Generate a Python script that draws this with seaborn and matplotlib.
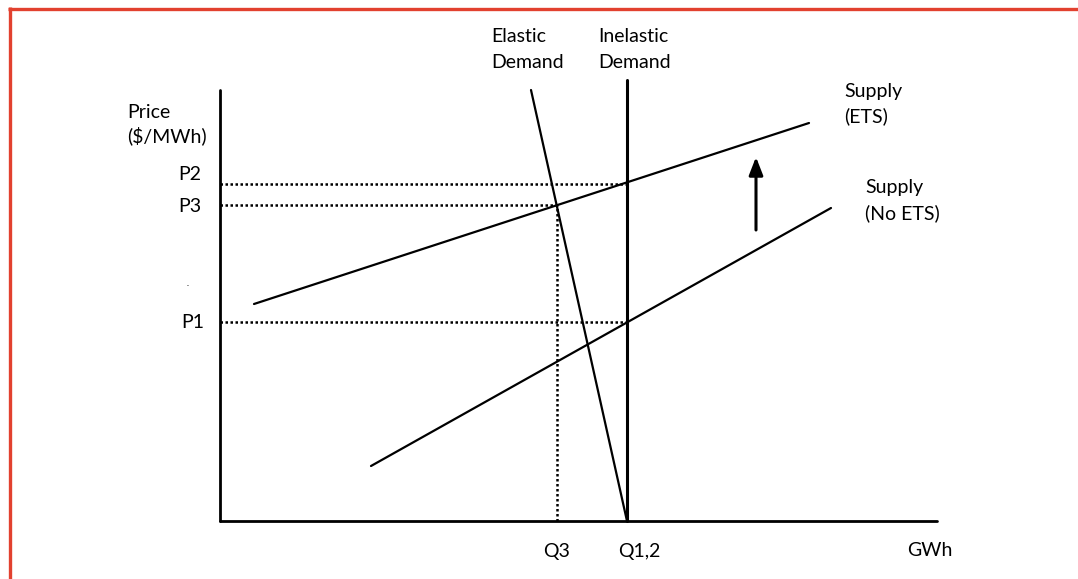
import matplotlib
matplotlib.use("Agg")
import matplotlib.pyplot as plt
import seaborn as sns
import pandas as pd
from matplotlib.lines import Line2D

# ---- data (quantity / price units measured from the axes origin) ----
supply_ets_q = [34, 589]
supply_ets_p = [217, 398]
supply_noets_q = [151, 611]
supply_noets_p = [55, 313]
elastic_q = [311, 407]
elastic_p = [431, 0]
inelastic_q = [407, 407]
inelastic_p = [0, 441]
price_levels = {"P2": 337, "P3": 316, "P1": 199}
price_ends = {"P2": 407, "P3": 337, "P1": 407}
quantity_levels = {"Q3": 337, "Q1,2": 407}
axis_q_max = 717
axis_p_max = 431
arrow_q = 536
arrow_p = [291, 364]

sns.set_theme(style="white")
plt.rcParams["font.family"] = ["Lato", "DejaVu Sans"]
plt.rcParams["text.color"] = "black"

fig = plt.figure(figsize=(10.78, 5.79), dpi=100)
ax = fig.add_axes([0, 0, 1, 1])
ax.set_xlim(-220, 858)
ax.set_ylim(-58, 521)
ax.axis("off")

def seg(q, p, lw, ls="-"):
    df = pd.DataFrame({"q": q, "p": p})
    sns.lineplot(data=df, x="q", y="p", ax=ax, color="black", lw=lw,
                 linestyle=ls, sort=False, estimator=None)

# axes
seg([0, 0], [axis_p_max, 0], 2.0)
seg([0, axis_q_max], [0, 0], 2.0)

# curves
seg(supply_ets_q, supply_ets_p, 1.6)
seg(supply_noets_q, supply_noets_p, 1.6)
seg(elastic_q, elastic_p, 1.6)
seg(inelastic_q, inelastic_p, 2.2)

# dotted guide lines
for k, p in price_levels.items():
    seg([0, price_ends[k]], [p, p], 1.8, ls=(0, (1, 1)))
seg([quantity_levels["Q3"]] * 2, [0, price_levels["P3"]], 1.8, ls=(0, (1, 1)))

# arrow
ax.annotate("", xy=(arrow_q, arrow_p[1]), xytext=(arrow_q, arrow_p[0]),
            arrowprops=dict(arrowstyle="-|>,head_length=0.9,head_width=0.35",
                            color="black", lw=2.2, shrinkA=0, shrinkB=0))

fs = 14
# labels
ax.text(-93, 409, "Price", fontsize=fs, ha="left", va="center")
ax.text(-93, 385, "($/MWh)", fontsize=fs, ha="left", va="center")
ax.text(-19, 346, "P2", fontsize=fs, ha="right", va="center")
ax.text(-19, 315, "P3", fontsize=fs, ha="right", va="center")
ax.text(-16, 198, "P1", fontsize=fs, ha="right", va="center")
ax.text(-32, 238, ".", fontsize=6, ha="center", va="center")
ax.text(271, 484, "Elastic", fontsize=fs, ha="left", va="center")
ax.text(271, 458, "Demand", fontsize=fs, ha="left", va="center")
ax.text(378, 484, "Inelastic", fontsize=fs, ha="left", va="center")
ax.text(378, 458, "Demand", fontsize=fs, ha="left", va="center")
ax.text(624, 430, "Supply", fontsize=fs, ha="left", va="center")
ax.text(624, 405, "(ETS)", fontsize=fs, ha="left", va="center")
ax.text(645, 333, "Supply", fontsize=fs, ha="left", va="center")
ax.text(645, 308, "(No ETS)", fontsize=fs, ha="left", va="center")
ax.text(quantity_levels["Q3"], -30, "Q3", fontsize=fs, ha="center", va="center")
ax.text(quantity_levels["Q1,2"] + 12, -30, "Q1,2", fontsize=fs, ha="center", va="center")
ax.text(710, -30, "GWh", fontsize=fs, ha="center", va="center")

# red frame (top & left)
red = "#E2412F"
fig.add_artist(Line2D([8 / 1078, 1], [1 - 8.5 / 579, 1 - 8.5 / 579],
                      transform=fig.transFigure, color=red, lw=2.4,
                      solid_capstyle="butt"))
fig.add_artist(Line2D([9.5 / 1078, 9.5 / 1078], [0, 1 - 7 / 579],
                      transform=fig.transFigure, color=red, lw=2.4,
                      solid_capstyle="butt"))

fig.savefig("out.png", dpi=100, facecolor="white")
